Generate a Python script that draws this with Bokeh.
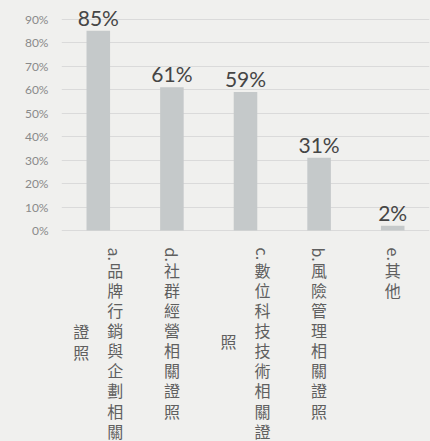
from bokeh.plotting import figure
from bokeh.models import (ColumnDataSource, FactorRange, Range1d, FixedTicker,
                          PrintfTickFormatter, GlobalInlineStyleSheet)
from bokeh.core.properties import value
from bokeh.embed import file_html
from bokeh.resources import INLINE
import math

# ---- data ----
categories = ["a.品牌行銷與企劃相關證照", "d.社群經營相關證照",
              "c.數位科技技術相關證照", "b.風險管理相關證照", "e.其他"]
values = [85, 61, 59, 31, 2]
# label as wrapped in the reference (lines right-to-left)
label_line1 = ["a.品牌行銷與企劃相關", "d.社群經營相關證照",
               "c.數位科技技術相關證", "b.風險管理相關證照", "e.其他"]
label_line2 = ["證照", "", "照", "", ""]
y_ticks = [0, 10, 20, 30, 40, 50, 60, 70, 80, 90]

BG = "#f0f0ee"
BAR = "#c5c9ca"
GRID = "#dadada"

p = figure(width=430, height=441, output_backend="svg", toolbar_location=None,
           x_range=FactorRange(*categories, range_padding=0),
           y_range=Range1d(-89.8, 97.9),
           x_axis_location=None,
           min_border_left=61, min_border_right=1, min_border_top=0,
           min_border_bottom=0, outline_line_color=None,
           background_fill_color=BG, border_fill_color=BG)
p.stylesheets = [GlobalInlineStyleSheet(
    css="html, body {margin:0; padding:0; overflow:hidden; background:%s;}" % BG)]

src = ColumnDataSource(dict(x=categories, top=values,
                            lab=[f"{v}%" for v in values]))
p.vbar(x="x", top="top", bottom=0, width=0.32, source=src,
       fill_color=BAR, line_color=None)
p.text(x="x", y="top", text="lab", source=src, text_align="center",
       text_baseline="bottom", y_offset=-1, text_font=value("Lato"),
       text_font_size="21px", text_color="#454545")

# y axis
ax = p.yaxis[0]
ax.ticker = FixedTicker(ticks=y_ticks)
ax.formatter = PrintfTickFormatter(format="%d%%")
ax.axis_line_color = None
ax.major_tick_line_color = None
ax.minor_tick_line_color = None
ax.major_tick_out = 0
ax.major_label_standoff = 13
ax.major_label_text_font = "Lato"
ax.major_label_text_font_size = "12px"
ax.major_label_text_color = "#8a8a8a"
p.ygrid.ticker = FixedTicker(ticks=y_ticks)
p.ygrid.grid_line_color = GRID
p.xgrid.grid_line_color = None

# category labels (vertical, CJK upright, latin prefix rotated)
LH = 19.7          # px per stacked character
TOP = 17           # px below the 0% line
PREF = 14          # px length of rotated "a." prefix
COL = 34           # px between wrapped columns
FS = "16px"
LINE_H = 0.84      # bokeh line-height factor giving ~LH px per line
Y_ADJ = -4         # compensate bokeh's top-baseline leading

pre_x, pre_txt, pre_xo = [], [], []
cjk_x, cjk_txt, cjk_xo, cjk_yo = [], [], [], []
for cat, l1, l2 in zip(categories, label_line1, label_line2):
    lines = [l1] + ([l2] if l2 else [])
    n = len(lines)
    xo1 = (n - 1) / 2 * COL
    prefix, rest = l1[:2], l1[2:]
    pre_x.append(cat); pre_txt.append(prefix); pre_xo.append(xo1)
    cjk_x.append(cat); cjk_txt.append("\n".join(rest)); cjk_xo.append(xo1)
    cjk_yo.append(TOP + PREF + Y_ADJ)
    len1 = PREF + LH * len(rest)
    centre = TOP + len1 / 2
    if l2:
        cjk_x.append(cat); cjk_txt.append("\n".join(l2))
        cjk_xo.append(xo1 - COL)
        cjk_yo.append(centre - LH * len(l2) / 2 + Y_ADJ)

psrc = ColumnDataSource(dict(x=pre_x, t=pre_txt, xo=pre_xo,
                             y=[0] * len(pre_x)))
p.text(x="x", y="y", text="t", x_offset="xo", y_offset=TOP, source=psrc,
       angle=-math.pi / 2, text_align="left", text_baseline="middle",
       text_font=value("Noto Sans CJK TC"), text_font_size=FS,
       text_color="#5f5f5f")
csrc = ColumnDataSource(dict(x=cjk_x, t=cjk_txt, xo=cjk_xo, yo=cjk_yo,
                             y=[0] * len(cjk_x)))
p.text(x="x", y="y", text="t", x_offset="xo", y_offset="yo", source=csrc,
       text_align="center", text_baseline="top", text_line_height=LINE_H,
       text_font=value("Noto Sans CJK TC"), text_font_size=FS,
       text_color="#5f5f5f")

open("out.html", "w").write(file_html(p, INLINE))
